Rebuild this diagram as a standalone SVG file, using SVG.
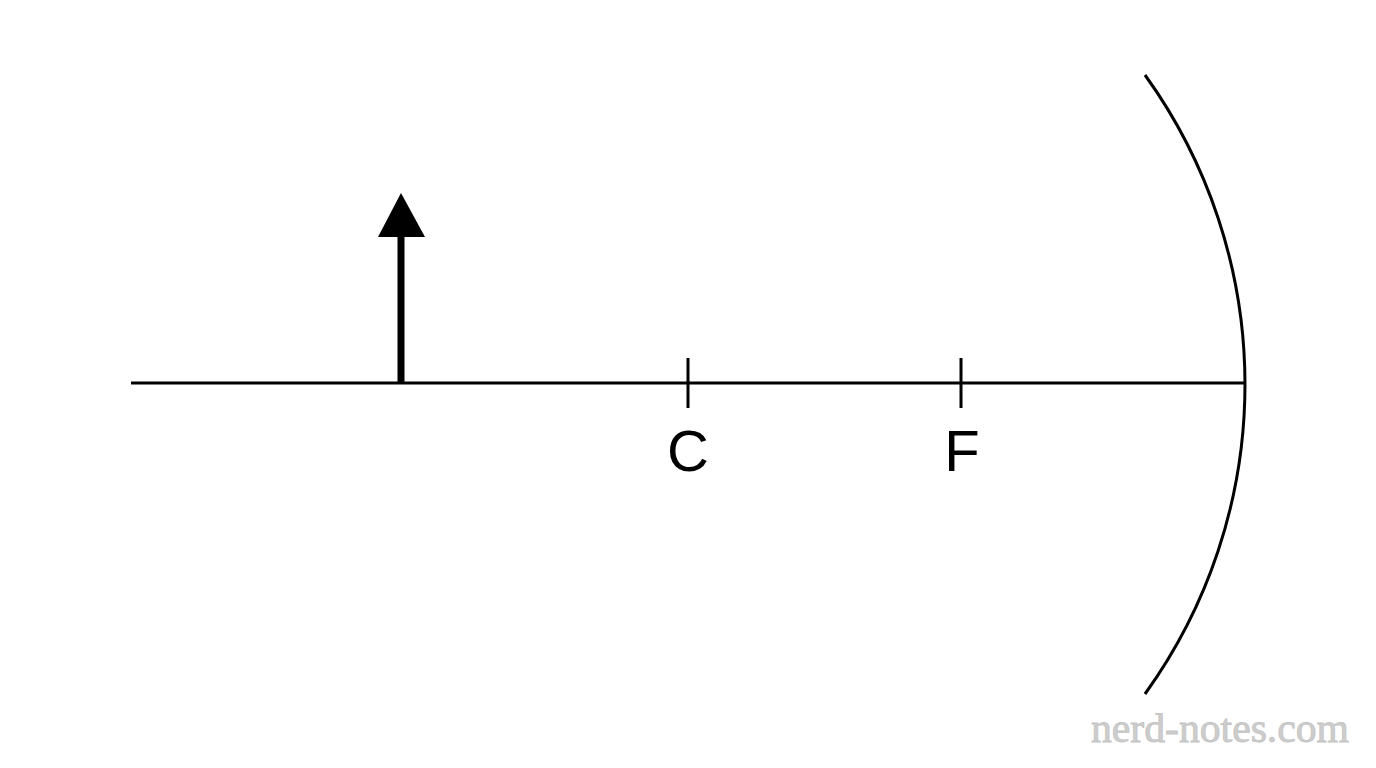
<svg xmlns="http://www.w3.org/2000/svg" width="1376" height="768" viewBox="0 0 1376 768">
<style>
.ln{stroke:#000;stroke-width:3;fill:none}
.lbl{font-family:"Liberation Sans",Arial,sans-serif;font-size:58px;fill:#000;text-anchor:middle}
.wm{font-family:"Liberation Serif","Times New Roman",serif;font-size:40px;fill:#cdcdcd;stroke:#c4c4c4;stroke-width:0.8}
</style>
<rect width="1376" height="768" fill="#fff"/>
<g id="axis"><line class="ln" x1="131" y1="383" x2="1244" y2="383"/></g>
<g id="mirror"><path class="ln" d="M1145,75 A529,529 0 0 1 1145,694"/></g>
<g id="object">
<line x1="401" y1="383" x2="401" y2="232" stroke="#000" stroke-width="7"/>
<polygon points="401,193 425,237 378,237" fill="#000"/>
</g>
<g id="point-C">
<line class="ln" x1="688" y1="358" x2="688" y2="408"/>
<text class="lbl" x="688" y="471">C</text>
</g>
<g id="point-F">
<line class="ln" x1="961" y1="358" x2="961" y2="408"/>
<text class="lbl" x="962" y="471">F</text>
</g>
<g id="watermark">
<text class="wm" x="1091" y="742" textLength="258" lengthAdjust="spacingAndGlyphs">nerd-notes.com</text>
</g>
</svg>
